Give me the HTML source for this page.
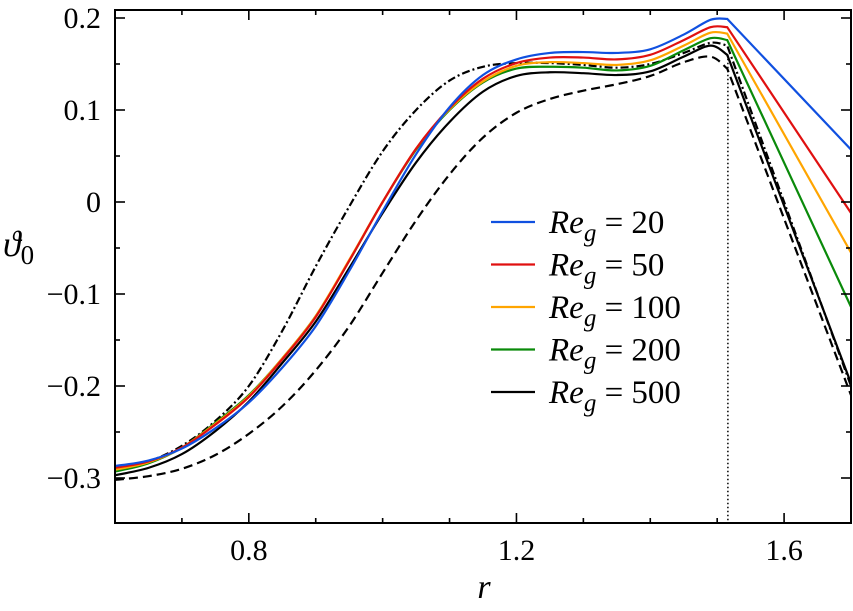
<!DOCTYPE html>
<html><head><meta charset="utf-8"><style>
html,body{margin:0;padding:0;background:#fff;}
svg{display:block;font-family:"Liberation Serif",serif;}
</style></head><body>
<svg id="chart" width="853" height="611" viewBox="0 0 853 611" xmlns="http://www.w3.org/2000/svg">
<g id="plot"></g>
</svg>
<script>
const rGrid = [0.6,0.65,0.7,0.75,0.8,0.85,0.9,0.95,1.0,1.05,1.1,1.15,1.2,1.25,1.3,1.35,1.4,1.45,1.49,1.515,1.7];
const re20  = [-0.287,-0.281,-0.268,-0.246,-0.218,-0.18,-0.135,-0.075,-0.01,0.052,0.103,0.138,0.155,0.162,0.163,0.162,0.166,0.182,0.198,0.199,0.057];
const re50  = [-0.289,-0.282,-0.267,-0.242,-0.212,-0.171,-0.125,-0.064,0.0,0.058,0.102,0.134,0.151,0.157,0.157,0.155,0.16,0.176,0.19,0.19,-0.012];
const re100 = [-0.291,-0.283,-0.267,-0.241,-0.211,-0.17,-0.124,-0.063,0.0,0.058,0.101,0.131,0.148,0.152,0.151,0.149,0.154,0.17,0.184,0.183,-0.055];
const re200 = [-0.293,-0.284,-0.267,-0.24,-0.21,-0.17,-0.124,-0.064,0.0,0.057,0.1,0.13,0.145,0.147,0.146,0.143,0.148,0.165,0.178,0.176,-0.114];
const re500 = [-0.297,-0.289,-0.274,-0.249,-0.217,-0.175,-0.13,-0.072,-0.012,0.043,0.087,0.12,0.137,0.141,0.14,0.138,0.142,0.158,0.17,0.16,-0.197];
const dashed  = [-0.302,-0.298,-0.29,-0.275,-0.252,-0.222,-0.183,-0.135,-0.077,-0.02,0.03,0.07,0.097,0.112,0.121,0.128,0.137,0.152,0.158,0.145,-0.21];
const dashdot = [-0.29,-0.282,-0.265,-0.238,-0.2,-0.14,-0.07,-0.005,0.055,0.1,0.132,0.147,0.151,0.151,0.149,0.146,0.15,0.162,0.173,0.17,-0.2];
const xTicks = [0.8,1.2,1.6];
const xTickLabels = ["0.8","1.2","1.6"];
const yTicks = [0.2,0.1,0,-0.1,-0.2,-0.3];
const yTickLabels = ["0.2","0.1","0","\u22120.1","\u22120.2","\u22120.3"];
const legendLabels = ["20","50","100","200","500"];
const rCrit = 1.516;

const L=115,R=851,T=10,B=523;
const X0=0.6,X1=1.7;
const sx = v => L + (v-X0)/(X1-X0)*(R-L);
const sy = v => 202 - v*920;
const NS="http://www.w3.org/2000/svg";
const plot=document.getElementById('plot');
function mk(tag,attrs,parent){const e=document.createElementNS(NS,tag);for(const k in attrs)e.setAttribute(k,attrs[k]);(parent||plot).appendChild(e);return e;}

const defs=mk('defs',{});
const cp=mk('clipPath',{id:'clip'},defs);
mk('rect',{x:L,y:T,width:R-L,height:B-T},cp);
const g=mk('g',{'clip-path':'url(#clip)'});



function pathFor(ys){
  const pts=rGrid.map((r,i)=>[sx(r),sy(ys[i])]);
  const n=pts.length;
  let d='M'+pts[0][0].toFixed(2)+','+pts[0][1].toFixed(2);
  for(let i=0;i<n-2;i++){
    const p0=pts[Math.max(0,i-1)],p1=pts[i],p2=pts[i+1],p3=pts[Math.min(n-2,i+2)];
    const c1=[p1[0]+(p2[0]-p0[0])/6,p1[1]+(p2[1]-p0[1])/6];
    const c2=[p2[0]-(p3[0]-p1[0])/6,p2[1]-(p3[1]-p1[1])/6];
    d+=' C'+c1[0].toFixed(2)+','+c1[1].toFixed(2)+' '+c2[0].toFixed(2)+','+c2[1].toFixed(2)+' '+p2[0].toFixed(2)+','+p2[1].toFixed(2);
  }
  d+=' L'+pts[n-1][0].toFixed(2)+','+pts[n-1][1].toFixed(2);
  return d;
}
const vl=mk('line',{x1:sx(rCrit),x2:sx(rCrit),y1:sy(0.16),y2:B,stroke:'#000','stroke-width':1.5,'stroke-dasharray':'1.5 2.5'},g);



const series=[
 {ys:dashed,c:'#000',dash:'9 5',name:'dashed-reference-curve'},
 {ys:dashdot,c:'#000',dash:'8 3 2 3',name:'dashdot-reference-curve'},
 {ys:re500,c:'#000',dash:null,name:'series-re-500'},
 {ys:re200,c:'#0a8a0a',dash:null,name:'series-re-200'},
 {ys:re100,c:'#ffa500',dash:null,name:'series-re-100'},
 {ys:re50,c:'#e01010',dash:null,name:'series-re-50'},
 {ys:re20,c:'#1050e0',dash:null,name:'series-re-20'},
];
series.forEach(s=>{
  const a={d:pathFor(s.ys),fill:'none',stroke:s.c,'stroke-width':2.2};
  if(s.dash)a['stroke-dasharray']=s.dash;
  const p=mk('path',a,g);
  
  
});

const fr=mk('rect',{x:L,y:T,width:R-L,height:B-T,fill:'none',stroke:'#000','stroke-width':2});



for(let v=0.7;v<1.7;v+=0.1){
  const x=sx(v);const major=xTicks.some(t=>Math.abs(t-v)<1e-6);const len=major?10:5;
  const t1=mk('line',{x1:x,x2:x,y1:B,y2:B-len,stroke:'#000','stroke-width':1.6});
  
  
  const t2=mk('line',{x1:x,x2:x,y1:T,y2:T+len,stroke:'#000','stroke-width':1.6});
  
  
}
xTicks.forEach((v,i)=>{
  const t=mk('text',{x:sx(v),y:560,'font-size':30,'text-anchor':'middle'});
  t.textContent=xTickLabels[i];
  
  
});
for(let k=-6;k<=4;k++){
  const v=k*0.05;const y=sy(v);if(y<T||y>B)continue;
  const major=(k%2===0);const len=major?10:5;
  const t1=mk('line',{x1:L,x2:L+len,y1:y,y2:y,stroke:'#000','stroke-width':1.6});
  
  
  const t2=mk('line',{x1:R,x2:R-len,y1:y,y2:y,stroke:'#000','stroke-width':1.6});
  
  
}
yTicks.forEach((v,i)=>{
  const t=mk('text',{x:101,y:sy(v)+10,'font-size':30,'text-anchor':'end'});
  t.textContent=yTickLabels[i];
  
  
});
const xt=mk('text',{x:484,y:598,'font-size':34,'font-style':'italic','text-anchor':'middle'});
xt.textContent='r';


const yt=mk('text',{x:3,y:256,'font-size':36,'font-style':'italic'});
yt.innerHTML='\u03d1<tspan font-style="normal" font-size="27" dy="8">0</tspan>';



const lcol=['#1050e0','#e01010','#ffa500','#0a8a0a','#000'];
legendLabels.forEach((lab,i)=>{
  const y=222+i*42.5;
  const ge=mk('g',{});
  
  
  mk('line',{x1:491,x2:535,y1:y,y2:y,stroke:lcol[i],'stroke-width':2.2},ge);
  const t=mk('text',{x:549,y:y+11,'font-size':33},ge);
  t.innerHTML='<tspan font-style="italic">Re</tspan><tspan font-style="italic" font-size="25" dy="8">g</tspan><tspan dy="-8"> = '+lab+'</tspan>';
});
</script>
</body></html>
